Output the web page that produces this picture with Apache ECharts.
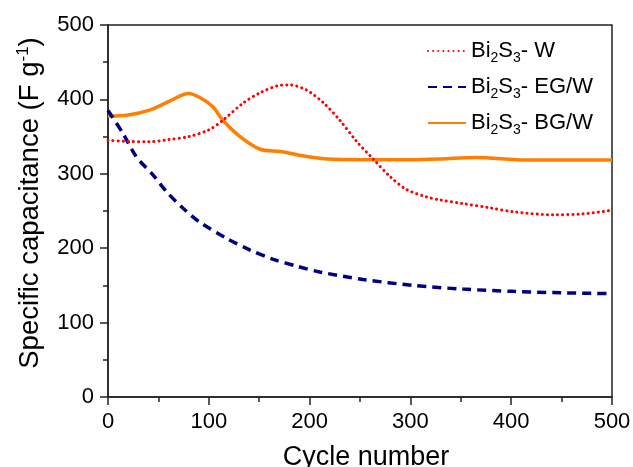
<!DOCTYPE html>
<html>
<head>
<meta charset="utf-8">
<script src="https://cdn.jsdelivr.net/npm/echarts@6/dist/echarts.min.js"></script>
<style>html,body{margin:0;padding:0;background:#fff}#c{width:633px;height:467px}</style>
</head>
<body>
<div id="c"></div>
<script>
const xTicks = [0, 100, 200, 300, 400, 500];
const yTicks = [0, 100, 200, 300, 400, 500];
const seriesNames = ['Bi2S3- W', 'Bi2S3- EG/W', 'Bi2S3- BG/W'];

const cyclesW = [0, 20, 40, 60, 80, 100, 114, 134, 151, 171, 180, 197, 214, 230, 247, 263, 280, 296, 316, 329, 352, 380, 402, 441, 470, 500];
const capW    = [345, 343.5, 343, 346, 350, 359, 372, 395, 409, 419, 419.5, 412.5, 395, 372, 343, 320, 296, 279, 269, 265, 260, 254, 249, 245, 246, 251];

const cyclesEG = [0, 15, 28, 45, 58, 75, 91, 118, 141, 164, 187, 210, 253, 303, 352, 402, 450, 495];
const capEG    = [385, 354, 323, 298, 276, 253, 235, 213, 197.5, 185, 176, 168, 158, 150, 145, 142, 140, 139];

const cyclesBG = [0, 20, 42, 60, 80, 92, 104, 114, 131, 151, 171, 190, 210, 224, 263, 300, 330, 365, 415, 460, 500];
const capBG    = [377.5, 379, 386, 397, 408, 402, 390, 372, 350, 333, 330, 325, 321, 319.5, 319, 319, 320, 322, 318.5, 318.5, 318.5];

const pairs = (xs, ys) => xs.map((x, i) => [x, ys[i]]);

const FONT = 'Liberation Sans, Arial, sans-serif';
const axisCol = '#222';

const chart = echarts.init(document.getElementById('c'), null, {renderer: 'canvas'});
chart.setOption({
  animation: false,
  backgroundColor: '#fff',
  grid: {left: 108, right: 21, top: 25, bottom: 70, show: true, borderColor: axisCol, borderWidth: 1.5,
         containLabel: false, outerBoundsMode: 'none'},
  legend: {
    orient: 'vertical', left: 422, top: 35, itemWidth: 38, itemHeight: 14, itemGap: 11,
    itemStyle: {color: 'transparent', borderColor: 'transparent', borderWidth: 0, opacity: 0},
    textStyle: {fontFamily: FONT, fontSize: 22, color: '#000',
      rich: {
        a: {fontFamily: FONT, fontSize: 22, color: '#000'},
        s: {fontFamily: FONT, fontSize: 14, color: '#000', padding: [14, 0, 0, 0]}
      }},
    formatter: function (name) {
      const rest = name.replace('Bi2S3', '');
      return '{a|Bi}{s|2}{a|S}{s|3}{a|' + rest + '}';
    },
    data: seriesNames
  },
  xAxis: {
    type: 'value', min: 0, max: 500, interval: 100,
    name: 'Cycle number', nameLocation: 'middle', nameGap: 47,
    nameTextStyle: {fontFamily: FONT, fontSize: 27, color: '#000', padding: [0, 0, 0, 12]},
    axisLine: {show: true, onZero: false, lineStyle: {color: axisCol, width: 1.5}},
    axisTick: {show: true, inside: false, length: 8, lineStyle: {color: axisCol, width: 1.5}},
    minorTick: {show: true, splitNumber: 2, length: 5, lineStyle: {color: axisCol, width: 1.5}},
    axisLabel: {fontFamily: FONT, fontSize: 22, color: '#000', margin: 14,
      formatter: v => xTicks.includes(v) ? String(v) : ''},
    splitLine: {show: false}
  },
  yAxis: {
    type: 'value', min: 0, max: 500, interval: 100,
    name: '{a|Specific capacitance (F g}{sup|-1}{a|)}', nameLocation: 'middle', nameGap: 62, nameRotate: 90,
    nameTextStyle: {fontFamily: FONT, fontSize: 27.5, color: '#000', padding: [0, 0, 0, 16],
      rich: {
        a: {fontFamily: FONT, fontSize: 27.5, color: '#000'},
        sup: {fontFamily: FONT, fontSize: 17, color: '#000', padding: [0, 0, 14, 0]}
      }},
    axisLine: {show: true, onZero: false, lineStyle: {color: axisCol, width: 1.5}},
    axisTick: {show: true, inside: false, length: 8, lineStyle: {color: axisCol, width: 1.5}},
    minorTick: {show: true, splitNumber: 2, length: 5, lineStyle: {color: axisCol, width: 1.5}},
    axisLabel: {fontFamily: FONT, fontSize: 22, color: '#000', margin: 14,
      formatter: v => yTicks.includes(v) ? String(v) : ''},
    splitLine: {show: false}
  },
  series: [
    {name: seriesNames[0], type: 'line', smooth: 0.3, showSymbol: false, symbol: 'none',
     data: pairs(cyclesW, capW), z: 3,
     lineStyle: {color: '#ff0000', width: 3, type: [0.1, 5], cap: 'round'},
     itemStyle: {color: '#ff0000'}},
    {name: seriesNames[1], type: 'line', smooth: 0.3, showSymbol: false, symbol: 'none',
     data: pairs(cyclesEG, capEG), z: 2,
     lineStyle: {color: '#000080', width: 3.5, type: [9, 6]},
     itemStyle: {color: '#000080'}},
    {name: seriesNames[2], type: 'line', smooth: 0.3, showSymbol: false, symbol: 'none',
     data: pairs(cyclesBG, capBG), z: 1,
     lineStyle: {color: '#ff8000', width: 3.5, type: 'solid'},
     itemStyle: {color: '#ff8000'}}
  ]
});
</script>
</body>
</html>
